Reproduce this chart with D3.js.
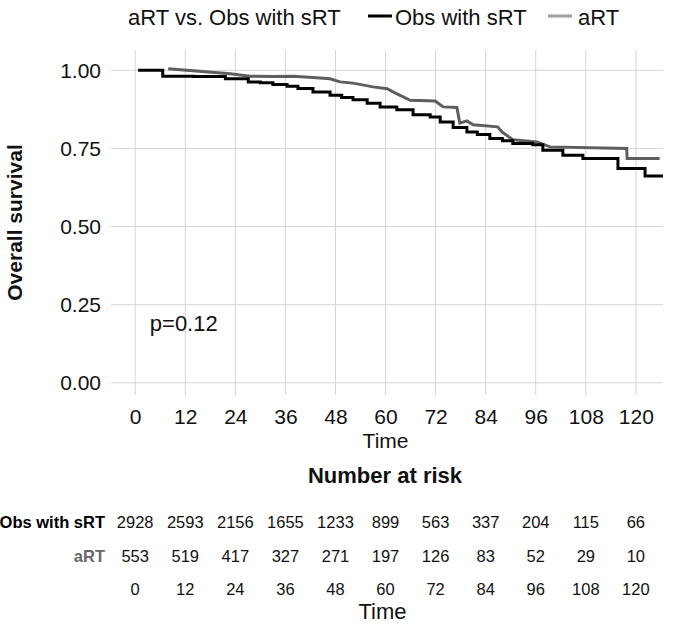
<!DOCTYPE html>
<html><head><meta charset="utf-8">
<script src="https://cdn.jsdelivr.net/npm/d3@7"></script>
<style>body{margin:0;background:#fff}svg{display:block;font-family:"Liberation Sans",Arial,Helvetica,sans-serif}</style>
</head><body>
<svg id="chart" width="700" height="630"></svg>
<script>
const timeTicks = [0,12,24,36,48,60,72,84,96,108,120];
const survTicks = [0,0.25,0.5,0.75,1.0];
const groups = ["Obs with sRT","aRT"];
const obsTime = [0.7,6.6,14,21.6,27.1,30,33,36.4,39,42.6,46.7,49.5,52.2,55.6,58.7,62.7,66.6,70.7,73.1,76.2,79.5,82,85,88,90.5,95.3,97.7,102.5,107.3,115.7,122.2,126.5];
const obsSurv = [1.000,0.981,0.980,0.973,0.963,0.960,0.955,0.949,0.942,0.931,0.920,0.913,0.906,0.895,0.883,0.874,0.858,0.851,0.835,0.817,0.803,0.795,0.782,0.775,0.766,0.762,0.744,0.728,0.718,0.686,0.662,0.662];
const artTime = [7.9,22.8,27.5,33.1,37.8,42.6,46.7,49.1,52.2,57,60.4,61.8,63.5,65.9,71.9,73.8,77.1,77.8,79.5,81,86.9,87.9,90.5,96.3,99.4,117.8,117.9,125.7];
const artSurv = [1.005,0.989,0.981,0.980,0.981,0.977,0.973,0.963,0.959,0.947,0.941,0.931,0.920,0.904,0.902,0.883,0.881,0.831,0.838,0.826,0.819,0.803,0.778,0.771,0.755,0.750,0.718,0.718];
const riskObs = [2928,2593,2156,1655,1233,899,563,337,204,115,66];
const riskArt = [553,519,417,327,271,197,126,83,52,29,10];
const pText = "p=0.12";

const svg = d3.select("#chart");
const L=111,R=663,T=50,B=395;
const x = d3.scaleLinear().domain([-5.8,126.5]).range([L,R]);
const y = d3.scaleLinear().domain([-0.039,1.065]).range([B,T]);
const grid = "#d4d4d4";
const FF = "Liberation Sans, Arial, sans-serif";

// grid
svg.append("g").selectAll("line").data(survTicks).join("line")
  .attr("x1",L).attr("x2",R).attr("y1",d=>y(d)).attr("y2",d=>y(d))
  .attr("stroke",grid).attr("stroke-width",1);
svg.append("g").selectAll("line").data(timeTicks).join("line")
  .attr("y1",T).attr("y2",B).attr("x1",d=>x(d)).attr("x2",d=>x(d))
  .attr("stroke",grid).attr("stroke-width",1);

// axes labels via d3 axes
const yAxis = svg.append("g").attr("transform",`translate(${L},0)`)
  .call(d3.axisLeft(y).tickValues(survTicks).tickFormat(d3.format(".2f")).tickSize(0).tickPadding(10));
yAxis.select(".domain").remove();
yAxis.selectAll("text").attr("font-size",21).attr("fill","#111").attr("font-family",FF);

const xAxis = svg.append("g").attr("transform",`translate(0,${B})`)
  .call(d3.axisBottom(x).tickValues(timeTicks).tickSize(0).tickPadding(0));
xAxis.select(".domain").remove();
xAxis.selectAll("text").attr("font-size",21).attr("fill","#111").attr("font-family",FF)
  .attr("dy",null).attr("y",29);

svg.append("text").attr("x",(x(0)+x(120))/2).attr("y",448).attr("text-anchor","middle")
  .attr("font-size",21).attr("fill","#111").text("Time");
svg.append("text").attr("transform",`translate(22,${(T+B)/2}) rotate(-90)`).attr("text-anchor","middle")
  .attr("font-size",21).attr("font-weight","bold").attr("fill","#111").text("Overall survival");

// curves
const obsData = obsTime.map((t,i)=>[t,obsSurv[i]]);
const artData = artTime.map((t,i)=>[t,artSurv[i]]);
svg.append("path").datum(artData)
  .attr("d",d3.line().x(d=>x(d[0])).y(d=>y(d[1])).curve(d3.curveLinear))
  .attr("fill","none").attr("stroke","#5e5e5e").attr("stroke-width",3);
svg.append("path").datum(obsData)
  .attr("d",d3.line().x(d=>x(d[0])).y(d=>y(d[1])).curve(d3.curveStepAfter))
  .attr("fill","none").attr("stroke","#000").attr("stroke-width",3);

svg.append("text").attr("x",x(3.5)).attr("y",331).attr("font-size",22).attr("fill","#111").text(pText);

// legend
svg.append("text").attr("x",128).attr("y",25).attr("font-size",22).attr("fill","#111").text("aRT vs. Obs with sRT");
svg.append("line").attr("x1",368).attr("x2",392).attr("y1",16).attr("y2",16).attr("stroke","#000").attr("stroke-width",3);
svg.append("text").attr("x",395).attr("y",25).attr("font-size",22).attr("fill","#111").text(groups[0]);
svg.append("line").attr("x1",548).attr("x2",572).attr("y1",16).attr("y2",16).attr("stroke","#a0a0a0").attr("stroke-width",3);
svg.append("text").attr("x",578).attr("y",25).attr("font-size",22).attr("fill","#111").text(groups[1]);

// risk table
svg.append("text").attr("x",385).attr("y",483).attr("text-anchor","middle")
  .attr("font-size",22).attr("font-weight","bold").attr("fill","#111").text("Number at risk");
const rows = [{label:groups[0],vals:riskObs,y:528,col:"#000"},{label:groups[1],vals:riskArt,y:561.5,col:"#666"}];
rows.forEach(r=>{
  svg.append("text").attr("x",105).attr("y",r.y).attr("text-anchor","end").attr("font-size",16.5)
    .attr("font-weight","bold").attr("fill",r.col).text(r.label);
  svg.append("g").selectAll("text").data(r.vals).join("text")
    .attr("x",(d,i)=>x(timeTicks[i])).attr("y",r.y).attr("text-anchor","middle")
    .attr("font-size",16.5).attr("fill","#111").text(d=>d);
});
svg.append("g").selectAll("text").data(timeTicks).join("text")
  .attr("x",d=>x(d)).attr("y",595).attr("text-anchor","middle").attr("font-size",16.5).attr("fill","#111").text(d=>d);
svg.append("text").attr("x",(x(0)+x(120))/2 - 3).attr("y",619).attr("text-anchor","middle")
  .attr("font-size",22).attr("fill","#111").text("Time");
</script>
</body></html>
